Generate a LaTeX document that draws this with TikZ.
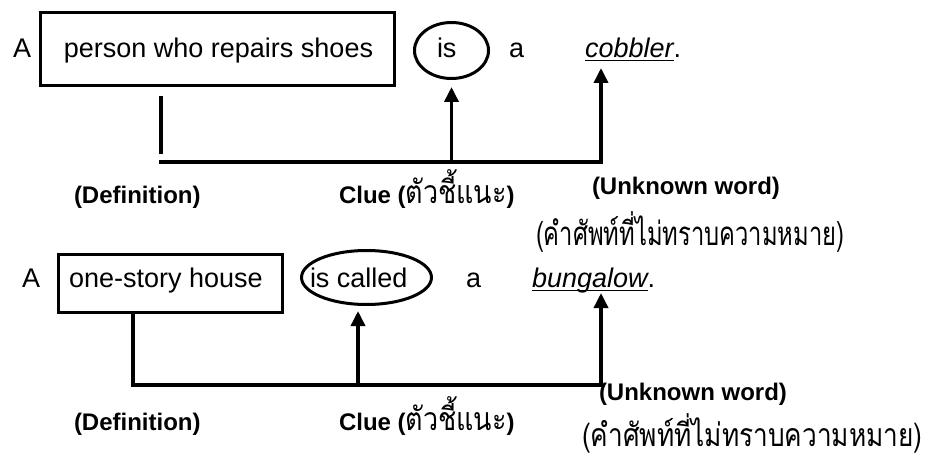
\documentclass[tikz,border=0pt]{standalone}
\usepackage{fontspec}
\setmainfont{Liberation Sans}
% Loma, narrowed so that its tall looped letters keep the line lengths
\newfontfamily\thaifont[Script=Thai, FakeStretch=0.72]{Loma}
\newfontfamily\thaiwide[Script=Thai, FakeStretch=0.82]{Loma}
\newfontfamily\thaiclue[Script=Thai, FakeStretch=0.84]{Loma}
\usetikzlibrary{arrows.meta,shapes.geometric}

\begin{document}
\begin{tikzpicture}[x=1pt,y=-1pt,
  every node/.style={inner sep=0pt, outer sep=0pt},
  word/.style={font=\fontsize{27}{32}\selectfont, anchor=base west},
  tag/.style={font=\fontsize{24}{28}\selectfont\bfseries, anchor=base west},
  thaitag/.style={font=\fontsize{33}{38}\selectfont\thaifont, anchor=base west},
  framebox/.style={draw, line width=3pt, rectangle},
  ring/.style={draw, line width=3pt, ellipse},
  link/.style={line width=3.5pt},
  arr/.style={link, -{Triangle[width=14pt,length=15pt]}},
  uline/.style={line width=1.6pt},
]
\useasboundingbox (0,0) rectangle (929,457);

% ---- first sentence ----
\node[word] (a1) at (13,58) {A};
\node[framebox, minimum width=354, minimum height=73] (box1) at (217.5,49) {};
\node[word, anchor=base] (def1) at (218.5,58) {person who repairs shoes};
\node[ring, minimum width=74, minimum height=56] (ring1) at (451.5,50.5) {};
\node[word] (is1) at (437,58) {is};
\node[word] (art1) at (509,58) {a};
\node[word] (unk1) at (585,58) {\itshape cobbler};
\node[word] (dot1) at (unk1.base east) {.};
\draw[uline] ([yshift=-2.5pt]unk1.base west) -- ([yshift=-2.5pt]unk1.base east);

\coordinate (stubtop1) at (161,96);
\coordinate (stubend1) at (161,154);
\coordinate (join1) at (159,162);
\coordinate (tip1) at (601,68);
\draw[link] (stubtop1) -- (stubend1);
\draw[arr] (join1) -| (tip1);
\draw[arr] (ring1.south |- join1) -- ([yshift=-8.5pt]ring1.south);

\node[tag] (deflab1) at (74,204) {(Definition)};
\node[tag] (cluelab1) at (339,204) {Clue ({\thaiclue\mdseries\fontsize{32}{38}\selectfont ตัวชี้แนะ})};
\node[tag] (unklab1) at (592,195) {(Unknown word)};
\node[thaitag] (thai1) at (536,246) {(คำศัพท์ที่ไม่ทราบความหมาย)};

% ---- second sentence ----
\node[word] (a2) at (22,287) {A};
\node[framebox, minimum width=224, minimum height=58] (box2) at (170.5,283.5) {};
\node[word] (def2) at (69,287) {one-story house};
\node[ring, minimum width=130, minimum height=54] (ring2) at (366.5,277.5) {};
\node[word] (is2) at (310,287) {is called};
\node[word] (art2) at (466,287) {a};
\node[word] (unk2) at (532,287) {\itshape bungalow};
\node[word] (dot2) at (unk2.base east) {.};
\draw[uline] ([yshift=-3.5pt]unk2.base west) -- ([yshift=-3.5pt]unk2.base east);

\coordinate (drop2) at (133,312.5);
\coordinate (join2) at (601,385);
\coordinate (tip2) at (601,293);
\coordinate (tip3) at (358,311);
\draw[arr] (drop2) |- (join2) -- (tip2);
\draw[arr] (tip3 |- join2) -- (tip3);

\node[tag] (deflab2) at (74,430) {(Definition)};
\node[tag] (cluelab2) at (339,430) {Clue ({\thaiclue\mdseries\fontsize{32}{38}\selectfont ตัวชี้แนะ})};
\node[tag] (unklab2) at (599,400) {(Unknown word)};
\node[thaitag, font=\fontsize{32}{38}\selectfont\thaiwide] (thai2) at (582,446) {(คำศัพท์ที่ไม่ทราบความหมาย)};
\end{tikzpicture}
\end{document}
